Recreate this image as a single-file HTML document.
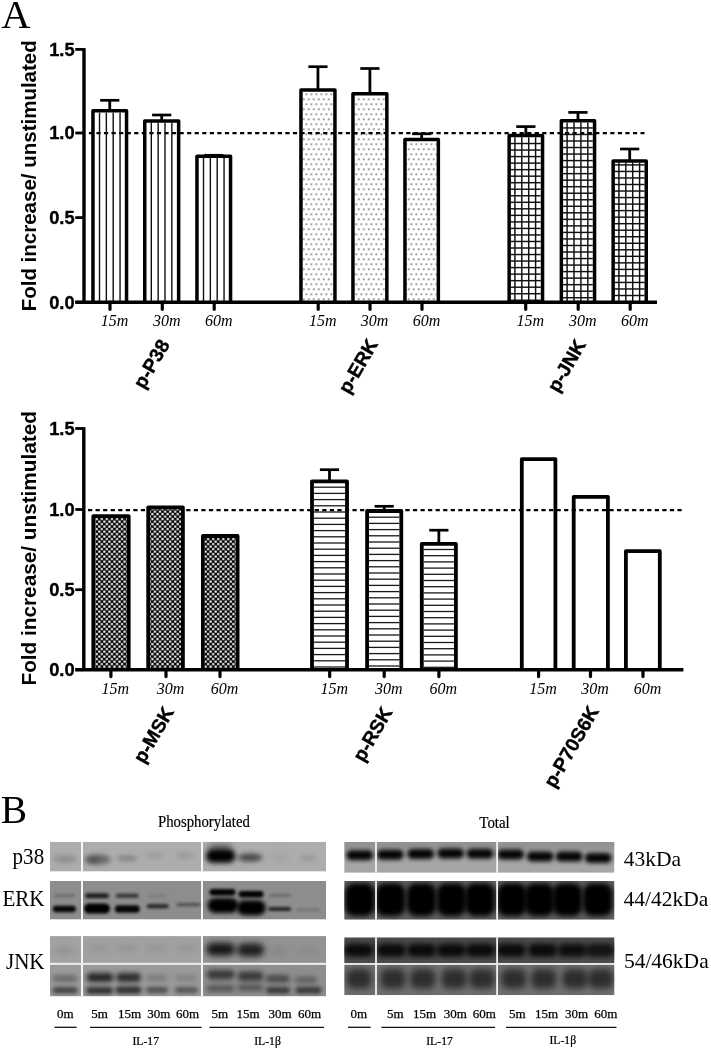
<!DOCTYPE html>
<html><head><meta charset="utf-8"><style>
html,body{margin:0;padding:0;background:#fff;}
body{width:711px;height:1050px;overflow:hidden;position:relative;}
svg{position:absolute;left:0;top:0;display:block;filter:blur(0.45px);}
.tk{font-family:"Liberation Sans",sans-serif;font-weight:bold;font-size:18.3px;stroke:#000;stroke-width:0.35px;}
.yl{font-family:"Liberation Sans",sans-serif;font-weight:bold;font-size:20.5px;}
.gl{font-family:"Liberation Sans",sans-serif;font-weight:bold;font-size:19.3px;stroke:#000;stroke-width:0.4px;}
.tl{font-family:"Liberation Serif",serif;font-style:italic;font-size:16px;}
.big{font-family:"Liberation Serif",serif;font-size:38px;}
.hd{font-family:"Liberation Serif",serif;font-size:16.6px;stroke:#000;stroke-width:0.2px;}
.rl{font-family:"Liberation Serif",serif;font-size:22.8px;}
.kd{font-family:"Liberation Serif",serif;font-size:21.5px;}
.ln{font-family:"Liberation Serif",serif;font-size:13px;stroke:#000;stroke-width:0.25px;}
</style></head><body>
<svg width="711" height="1050" viewBox="0 0 711 1050">
<defs>
<pattern id="dots" patternUnits="userSpaceOnUse" x="303.5" y="183.5" width="5" height="10"><rect x="2.2" y="0.1" width="1.25" height="1.25" fill="#111"/><rect x="-0.3" y="5.1" width="1.25" height="1.25" fill="#111"/><rect x="4.7" y="5.1" width="1.25" height="1.25" fill="#111"/></pattern>
<pattern id="grid" patternUnits="userSpaceOnUse" x="0" y="0" width="6.1" height="5.7"><rect x="0" y="0" width="6.1" height="1.3" fill="#222"/><rect x="0" y="0" width="1.3" height="5.7" fill="#222"/></pattern>
<pattern id="chk" patternUnits="userSpaceOnUse" x="95.5" y="517.83" width="5.06" height="5"><rect width="5.06" height="5" fill="#050505"/><rect x="0.2" y="0.2" width="2.13" height="2.1" fill="#fff"/><rect x="2.73" y="2.7" width="2.13" height="2.1" fill="#fff"/></pattern>
<pattern id="hs" patternUnits="userSpaceOnUse" x="0" y="486.55" width="10" height="6.1"><rect x="0" y="0" width="10" height="1.3" fill="#222"/></pattern>
<filter id="b5" x="-50%" y="-100%" width="200%" height="300%"><feGaussianBlur stdDeviation="0.5"/></filter>
<filter id="b6" x="-50%" y="-100%" width="200%" height="300%"><feGaussianBlur stdDeviation="0.6"/></filter>
<filter id="b7" x="-50%" y="-100%" width="200%" height="300%"><feGaussianBlur stdDeviation="0.7"/></filter>
<filter id="b8" x="-50%" y="-100%" width="200%" height="300%"><feGaussianBlur stdDeviation="0.8"/></filter>
<filter id="b9" x="-50%" y="-100%" width="200%" height="300%"><feGaussianBlur stdDeviation="0.9"/></filter>
<filter id="b10" x="-50%" y="-100%" width="200%" height="300%"><feGaussianBlur stdDeviation="1.0"/></filter>
<filter id="b11" x="-50%" y="-100%" width="200%" height="300%"><feGaussianBlur stdDeviation="1.1"/></filter>
<filter id="b12" x="-50%" y="-100%" width="200%" height="300%"><feGaussianBlur stdDeviation="1.2"/></filter>
<filter id="b13" x="-50%" y="-100%" width="200%" height="300%"><feGaussianBlur stdDeviation="1.3"/></filter>
<filter id="b14" x="-50%" y="-100%" width="200%" height="300%"><feGaussianBlur stdDeviation="1.4"/></filter>
<filter id="b15" x="-50%" y="-100%" width="200%" height="300%"><feGaussianBlur stdDeviation="1.5"/></filter>
<filter id="b16" x="-50%" y="-100%" width="200%" height="300%"><feGaussianBlur stdDeviation="1.6"/></filter>
<filter id="b17" x="-50%" y="-100%" width="200%" height="300%"><feGaussianBlur stdDeviation="1.7"/></filter>
<filter id="b18" x="-50%" y="-100%" width="200%" height="300%"><feGaussianBlur stdDeviation="1.8"/></filter>
<filter id="b19" x="-50%" y="-100%" width="200%" height="300%"><feGaussianBlur stdDeviation="1.9"/></filter>
<filter id="b20" x="-50%" y="-100%" width="200%" height="300%"><feGaussianBlur stdDeviation="2.0"/></filter>
<filter id="b21" x="-50%" y="-100%" width="200%" height="300%"><feGaussianBlur stdDeviation="2.1"/></filter>
<filter id="b22" x="-50%" y="-100%" width="200%" height="300%"><feGaussianBlur stdDeviation="2.2"/></filter>
<filter id="b23" x="-50%" y="-100%" width="200%" height="300%"><feGaussianBlur stdDeviation="2.3"/></filter>
<filter id="b24" x="-50%" y="-100%" width="200%" height="300%"><feGaussianBlur stdDeviation="2.4"/></filter>
<filter id="b25" x="-50%" y="-100%" width="200%" height="300%"><feGaussianBlur stdDeviation="2.5"/></filter>
<filter id="b26" x="-50%" y="-100%" width="200%" height="300%"><feGaussianBlur stdDeviation="2.6"/></filter>
<filter id="b27" x="-50%" y="-100%" width="200%" height="300%"><feGaussianBlur stdDeviation="2.7"/></filter>
<filter id="b28" x="-50%" y="-100%" width="200%" height="300%"><feGaussianBlur stdDeviation="2.8"/></filter>
<filter id="b29" x="-50%" y="-100%" width="200%" height="300%"><feGaussianBlur stdDeviation="2.9"/></filter>
<filter id="b30" x="-50%" y="-100%" width="200%" height="300%"><feGaussianBlur stdDeviation="3.0"/></filter>
<filter id="b31" x="-50%" y="-100%" width="200%" height="300%"><feGaussianBlur stdDeviation="3.1"/></filter>
<filter id="b32" x="-50%" y="-100%" width="200%" height="300%"><feGaussianBlur stdDeviation="3.2"/></filter>
<filter id="b33" x="-50%" y="-100%" width="200%" height="300%"><feGaussianBlur stdDeviation="3.3"/></filter>
<filter id="b34" x="-50%" y="-100%" width="200%" height="300%"><feGaussianBlur stdDeviation="3.4"/></filter>
<filter id="b35" x="-50%" y="-100%" width="200%" height="300%"><feGaussianBlur stdDeviation="3.5"/></filter>
<filter id="b36" x="-50%" y="-100%" width="200%" height="300%"><feGaussianBlur stdDeviation="3.6"/></filter>
<filter id="b37" x="-50%" y="-100%" width="200%" height="300%"><feGaussianBlur stdDeviation="3.7"/></filter>
<filter id="b38" x="-50%" y="-100%" width="200%" height="300%"><feGaussianBlur stdDeviation="3.8"/></filter>
<filter id="b39" x="-50%" y="-100%" width="200%" height="300%"><feGaussianBlur stdDeviation="3.9"/></filter>
<filter id="b40" x="-50%" y="-100%" width="200%" height="300%"><feGaussianBlur stdDeviation="4.0"/></filter>
<filter id="b41" x="-50%" y="-100%" width="200%" height="300%"><feGaussianBlur stdDeviation="4.1"/></filter>
<filter id="b42" x="-50%" y="-100%" width="200%" height="300%"><feGaussianBlur stdDeviation="4.2"/></filter>
<filter id="b43" x="-50%" y="-100%" width="200%" height="300%"><feGaussianBlur stdDeviation="4.3"/></filter>
<filter id="b44" x="-50%" y="-100%" width="200%" height="300%"><feGaussianBlur stdDeviation="4.4"/></filter>
<filter id="b45" x="-50%" y="-100%" width="200%" height="300%"><feGaussianBlur stdDeviation="4.5"/></filter>
<filter id="b46" x="-50%" y="-100%" width="200%" height="300%"><feGaussianBlur stdDeviation="4.6"/></filter>
<filter id="b47" x="-50%" y="-100%" width="200%" height="300%"><feGaussianBlur stdDeviation="4.7"/></filter>
<filter id="b48" x="-50%" y="-100%" width="200%" height="300%"><feGaussianBlur stdDeviation="4.8"/></filter>
<filter id="b49" x="-50%" y="-100%" width="200%" height="300%"><feGaussianBlur stdDeviation="4.9"/></filter>
<filter id="b50" x="-50%" y="-100%" width="200%" height="300%"><feGaussianBlur stdDeviation="5.0"/></filter>
<filter id="b51" x="-50%" y="-100%" width="200%" height="300%"><feGaussianBlur stdDeviation="5.1"/></filter>
<filter id="b52" x="-50%" y="-100%" width="200%" height="300%"><feGaussianBlur stdDeviation="5.2"/></filter>
<filter id="b53" x="-50%" y="-100%" width="200%" height="300%"><feGaussianBlur stdDeviation="5.3"/></filter>
<filter id="b54" x="-50%" y="-100%" width="200%" height="300%"><feGaussianBlur stdDeviation="5.4"/></filter>
<filter id="b55" x="-50%" y="-100%" width="200%" height="300%"><feGaussianBlur stdDeviation="5.5"/></filter>
<filter id="b56" x="-50%" y="-100%" width="200%" height="300%"><feGaussianBlur stdDeviation="5.6"/></filter>
<filter id="b57" x="-50%" y="-100%" width="200%" height="300%"><feGaussianBlur stdDeviation="5.7"/></filter>
<filter id="b58" x="-50%" y="-100%" width="200%" height="300%"><feGaussianBlur stdDeviation="5.8"/></filter>
<filter id="b59" x="-50%" y="-100%" width="200%" height="300%"><feGaussianBlur stdDeviation="5.9"/></filter>
<clipPath id="cpL1"><rect x="50" y="841.8" width="276" height="29.8"/></clipPath>
<clipPath id="cpL2"><rect x="50" y="880.9" width="276" height="38.7"/></clipPath>
<clipPath id="cpL3"><rect x="50" y="936.1" width="276" height="27.1"/></clipPath>
<clipPath id="cpL4"><rect x="50" y="964.4" width="276" height="32"/></clipPath>
<clipPath id="cpR1"><rect x="344.2" y="841.9" width="270.3" height="30.9"/></clipPath>
<clipPath id="cpR2"><rect x="344.2" y="880.9" width="270.3" height="38.8"/></clipPath>
<clipPath id="cpR3"><rect x="344.2" y="937.3" width="270.3" height="25.9"/></clipPath>
<clipPath id="cpR4"><rect x="344.2" y="964.4" width="270.3" height="30.8"/></clipPath>
</defs>
<rect width="711" height="1050" fill="#fff"/>
<line x1="84" y1="48.1" x2="84" y2="302.2" stroke="#000" stroke-width="3.4"/>
<line x1="75.3" y1="49.4" x2="84" y2="49.4" stroke="#000" stroke-width="2.8"/>
<text x="74.6" y="55.699999999999996" class="tk" text-anchor="end">1.5</text>
<line x1="75.3" y1="133" x2="84" y2="133" stroke="#000" stroke-width="2.8"/>
<text x="74.6" y="139.3" class="tk" text-anchor="end">1.0</text>
<line x1="75.3" y1="217.6" x2="84" y2="217.6" stroke="#000" stroke-width="2.8"/>
<text x="74.6" y="223.9" class="tk" text-anchor="end">0.5</text>
<line x1="75.3" y1="302.2" x2="84" y2="302.2" stroke="#000" stroke-width="2.8"/>
<text x="74.6" y="308.5" class="tk" text-anchor="end">0.0</text>
<line x1="86" y1="133.05" x2="644.5" y2="133.05" stroke="#000" stroke-width="2.2" stroke-dasharray="4.2 3.357" stroke-dashoffset="4.7"/>
<line x1="109.75" y1="110.10" x2="109.75" y2="100.30" stroke="#000" stroke-width="2.8"/>
<line x1="100.15" y1="100.30" x2="119.35" y2="100.30" stroke="#000" stroke-width="2.7"/>
<rect x="98.80" y="112.60" width="1.4" height="189.60" fill="#111"/>
<rect x="105.65" y="112.60" width="1.4" height="189.60" fill="#111"/>
<rect x="112.50" y="112.60" width="1.4" height="189.60" fill="#111"/>
<rect x="119.35" y="112.60" width="1.4" height="189.60" fill="#111"/>
<path d="M92.95,302.20 V110.85 H126.55 V302.20" fill="none" stroke="#000" stroke-width="3.5" stroke-linejoin="round"/>
<line x1="161.70" y1="120.20" x2="161.70" y2="115.00" stroke="#000" stroke-width="2.8"/>
<line x1="152.10" y1="115.00" x2="171.30" y2="115.00" stroke="#000" stroke-width="2.7"/>
<rect x="150.60" y="122.70" width="1.4" height="179.50" fill="#111"/>
<rect x="157.45" y="122.70" width="1.4" height="179.50" fill="#111"/>
<rect x="164.30" y="122.70" width="1.4" height="179.50" fill="#111"/>
<rect x="171.15" y="122.70" width="1.4" height="179.50" fill="#111"/>
<path d="M144.75,302.20 V120.95 H178.65 V302.20" fill="none" stroke="#000" stroke-width="3.5" stroke-linejoin="round"/>
<line x1="213.75" y1="155.50" x2="213.75" y2="155.30" stroke="#000" stroke-width="2.8"/>
<line x1="204.15" y1="155.30" x2="223.35" y2="155.30" stroke="#000" stroke-width="2.7"/>
<rect x="202.80" y="158.00" width="1.4" height="144.20" fill="#111"/>
<rect x="209.65" y="158.00" width="1.4" height="144.20" fill="#111"/>
<rect x="216.50" y="158.00" width="1.4" height="144.20" fill="#111"/>
<rect x="223.35" y="158.00" width="1.4" height="144.20" fill="#111"/>
<path d="M196.95,302.20 V156.25 H230.55 V302.20" fill="none" stroke="#000" stroke-width="3.5" stroke-linejoin="round"/>
<line x1="317.95" y1="89.30" x2="317.95" y2="66.70" stroke="#000" stroke-width="2.8"/>
<line x1="308.35" y1="66.70" x2="327.55" y2="66.70" stroke="#000" stroke-width="2.7"/>
<rect x="302.70" y="91.80" width="30.50" height="210.40" fill="url(#dots)"/>
<path d="M300.95,302.20 V90.05 H334.95 V302.20" fill="none" stroke="#000" stroke-width="3.5" stroke-linejoin="round"/>
<line x1="369.90" y1="93.10" x2="369.90" y2="68.50" stroke="#000" stroke-width="2.8"/>
<line x1="360.30" y1="68.50" x2="379.50" y2="68.50" stroke="#000" stroke-width="2.7"/>
<rect x="354.70" y="95.60" width="30.40" height="206.60" fill="url(#dots)"/>
<path d="M352.95,302.20 V93.85 H386.85 V302.20" fill="none" stroke="#000" stroke-width="3.5" stroke-linejoin="round"/>
<line x1="421.65" y1="138.80" x2="421.65" y2="133.80" stroke="#000" stroke-width="2.8"/>
<line x1="412.05" y1="133.80" x2="431.25" y2="133.80" stroke="#000" stroke-width="2.7"/>
<rect x="406.70" y="141.30" width="29.90" height="160.90" fill="url(#dots)"/>
<path d="M404.95,302.20 V139.55 H438.35 V302.20" fill="none" stroke="#000" stroke-width="3.5" stroke-linejoin="round"/>
<line x1="525.85" y1="134.80" x2="525.85" y2="126.60" stroke="#000" stroke-width="2.8"/>
<line x1="516.25" y1="126.60" x2="535.45" y2="126.60" stroke="#000" stroke-width="2.7"/>
<rect x="514.18" y="137.30" width="1.45" height="164.90" fill="#111"/>
<rect x="521.08" y="137.30" width="1.45" height="164.90" fill="#111"/>
<rect x="527.98" y="137.30" width="1.45" height="164.90" fill="#111"/>
<rect x="534.88" y="137.30" width="1.45" height="164.90" fill="#111"/>
<rect x="510.90" y="142.80" width="29.90" height="1.45" fill="#111"/>
<rect x="510.90" y="149.33" width="29.90" height="1.45" fill="#111"/>
<rect x="510.90" y="155.86" width="29.90" height="1.45" fill="#111"/>
<rect x="510.90" y="162.39" width="29.90" height="1.45" fill="#111"/>
<rect x="510.90" y="168.92" width="29.90" height="1.45" fill="#111"/>
<rect x="510.90" y="175.45" width="29.90" height="1.45" fill="#111"/>
<rect x="510.90" y="181.98" width="29.90" height="1.45" fill="#111"/>
<rect x="510.90" y="188.51" width="29.90" height="1.45" fill="#111"/>
<rect x="510.90" y="195.04" width="29.90" height="1.45" fill="#111"/>
<rect x="510.90" y="201.57" width="29.90" height="1.45" fill="#111"/>
<rect x="510.90" y="208.10" width="29.90" height="1.45" fill="#111"/>
<rect x="510.90" y="214.63" width="29.90" height="1.45" fill="#111"/>
<rect x="510.90" y="221.16" width="29.90" height="1.45" fill="#111"/>
<rect x="510.90" y="227.69" width="29.90" height="1.45" fill="#111"/>
<rect x="510.90" y="234.22" width="29.90" height="1.45" fill="#111"/>
<rect x="510.90" y="240.75" width="29.90" height="1.45" fill="#111"/>
<rect x="510.90" y="247.28" width="29.90" height="1.45" fill="#111"/>
<rect x="510.90" y="253.81" width="29.90" height="1.45" fill="#111"/>
<rect x="510.90" y="260.34" width="29.90" height="1.45" fill="#111"/>
<rect x="510.90" y="266.87" width="29.90" height="1.45" fill="#111"/>
<rect x="510.90" y="273.40" width="29.90" height="1.45" fill="#111"/>
<rect x="510.90" y="279.93" width="29.90" height="1.45" fill="#111"/>
<rect x="510.90" y="286.46" width="29.90" height="1.45" fill="#111"/>
<rect x="510.90" y="292.99" width="29.90" height="1.45" fill="#111"/>
<rect x="510.90" y="299.52" width="29.90" height="1.45" fill="#111"/>
<path d="M509.15,302.20 V135.55 H542.55 V302.20" fill="none" stroke="#000" stroke-width="3.5" stroke-linejoin="round"/>
<line x1="577.95" y1="120.10" x2="577.95" y2="112.40" stroke="#000" stroke-width="2.8"/>
<line x1="568.35" y1="112.40" x2="587.55" y2="112.40" stroke="#000" stroke-width="2.7"/>
<rect x="566.38" y="122.60" width="1.45" height="179.60" fill="#111"/>
<rect x="573.28" y="122.60" width="1.45" height="179.60" fill="#111"/>
<rect x="580.18" y="122.60" width="1.45" height="179.60" fill="#111"/>
<rect x="587.08" y="122.60" width="1.45" height="179.60" fill="#111"/>
<rect x="563.10" y="127.21" width="29.70" height="1.45" fill="#111"/>
<rect x="563.10" y="133.74" width="29.70" height="1.45" fill="#111"/>
<rect x="563.10" y="140.27" width="29.70" height="1.45" fill="#111"/>
<rect x="563.10" y="146.80" width="29.70" height="1.45" fill="#111"/>
<rect x="563.10" y="153.33" width="29.70" height="1.45" fill="#111"/>
<rect x="563.10" y="159.86" width="29.70" height="1.45" fill="#111"/>
<rect x="563.10" y="166.39" width="29.70" height="1.45" fill="#111"/>
<rect x="563.10" y="172.92" width="29.70" height="1.45" fill="#111"/>
<rect x="563.10" y="179.45" width="29.70" height="1.45" fill="#111"/>
<rect x="563.10" y="185.98" width="29.70" height="1.45" fill="#111"/>
<rect x="563.10" y="192.51" width="29.70" height="1.45" fill="#111"/>
<rect x="563.10" y="199.04" width="29.70" height="1.45" fill="#111"/>
<rect x="563.10" y="205.57" width="29.70" height="1.45" fill="#111"/>
<rect x="563.10" y="212.10" width="29.70" height="1.45" fill="#111"/>
<rect x="563.10" y="218.63" width="29.70" height="1.45" fill="#111"/>
<rect x="563.10" y="225.16" width="29.70" height="1.45" fill="#111"/>
<rect x="563.10" y="231.69" width="29.70" height="1.45" fill="#111"/>
<rect x="563.10" y="238.22" width="29.70" height="1.45" fill="#111"/>
<rect x="563.10" y="244.75" width="29.70" height="1.45" fill="#111"/>
<rect x="563.10" y="251.28" width="29.70" height="1.45" fill="#111"/>
<rect x="563.10" y="257.81" width="29.70" height="1.45" fill="#111"/>
<rect x="563.10" y="264.34" width="29.70" height="1.45" fill="#111"/>
<rect x="563.10" y="270.87" width="29.70" height="1.45" fill="#111"/>
<rect x="563.10" y="277.40" width="29.70" height="1.45" fill="#111"/>
<rect x="563.10" y="283.93" width="29.70" height="1.45" fill="#111"/>
<rect x="563.10" y="290.46" width="29.70" height="1.45" fill="#111"/>
<rect x="563.10" y="296.99" width="29.70" height="1.45" fill="#111"/>
<path d="M561.35,302.20 V120.85 H594.55 V302.20" fill="none" stroke="#000" stroke-width="3.5" stroke-linejoin="round"/>
<line x1="629.70" y1="160.20" x2="629.70" y2="149.00" stroke="#000" stroke-width="2.8"/>
<line x1="620.10" y1="149.00" x2="639.30" y2="149.00" stroke="#000" stroke-width="2.7"/>
<rect x="618.18" y="162.70" width="1.45" height="139.50" fill="#111"/>
<rect x="625.08" y="162.70" width="1.45" height="139.50" fill="#111"/>
<rect x="631.98" y="162.70" width="1.45" height="139.50" fill="#111"/>
<rect x="638.88" y="162.70" width="1.45" height="139.50" fill="#111"/>
<rect x="614.90" y="164.19" width="29.60" height="1.45" fill="#111"/>
<rect x="614.90" y="170.72" width="29.60" height="1.45" fill="#111"/>
<rect x="614.90" y="177.25" width="29.60" height="1.45" fill="#111"/>
<rect x="614.90" y="183.78" width="29.60" height="1.45" fill="#111"/>
<rect x="614.90" y="190.31" width="29.60" height="1.45" fill="#111"/>
<rect x="614.90" y="196.84" width="29.60" height="1.45" fill="#111"/>
<rect x="614.90" y="203.37" width="29.60" height="1.45" fill="#111"/>
<rect x="614.90" y="209.90" width="29.60" height="1.45" fill="#111"/>
<rect x="614.90" y="216.43" width="29.60" height="1.45" fill="#111"/>
<rect x="614.90" y="222.96" width="29.60" height="1.45" fill="#111"/>
<rect x="614.90" y="229.49" width="29.60" height="1.45" fill="#111"/>
<rect x="614.90" y="236.02" width="29.60" height="1.45" fill="#111"/>
<rect x="614.90" y="242.55" width="29.60" height="1.45" fill="#111"/>
<rect x="614.90" y="249.08" width="29.60" height="1.45" fill="#111"/>
<rect x="614.90" y="255.61" width="29.60" height="1.45" fill="#111"/>
<rect x="614.90" y="262.14" width="29.60" height="1.45" fill="#111"/>
<rect x="614.90" y="268.67" width="29.60" height="1.45" fill="#111"/>
<rect x="614.90" y="275.20" width="29.60" height="1.45" fill="#111"/>
<rect x="614.90" y="281.73" width="29.60" height="1.45" fill="#111"/>
<rect x="614.90" y="288.26" width="29.60" height="1.45" fill="#111"/>
<rect x="614.90" y="294.79" width="29.60" height="1.45" fill="#111"/>
<path d="M613.15,302.20 V160.95 H646.25 V302.20" fill="none" stroke="#000" stroke-width="3.5" stroke-linejoin="round"/>
<line x1="75.3" y1="302.2" x2="657" y2="302.2" stroke="#000" stroke-width="3.4"/>
<line x1="110" y1="302.2" x2="110" y2="309.3" stroke="#000" stroke-width="3.2" stroke-linecap="round"/>
<text x="114.5" y="325.9" class="tl" text-anchor="middle">15m</text>
<line x1="162.3" y1="302.2" x2="162.3" y2="309.3" stroke="#000" stroke-width="3.2" stroke-linecap="round"/>
<text x="166.8" y="325.9" class="tl" text-anchor="middle">30m</text>
<line x1="214.2" y1="302.2" x2="214.2" y2="309.3" stroke="#000" stroke-width="3.2" stroke-linecap="round"/>
<text x="218.7" y="325.9" class="tl" text-anchor="middle">60m</text>
<line x1="318.2" y1="302.2" x2="318.2" y2="309.3" stroke="#000" stroke-width="3.2" stroke-linecap="round"/>
<text x="322.7" y="325.9" class="tl" text-anchor="middle">15m</text>
<line x1="370" y1="302.2" x2="370" y2="309.3" stroke="#000" stroke-width="3.2" stroke-linecap="round"/>
<text x="374.5" y="325.9" class="tl" text-anchor="middle">30m</text>
<line x1="422" y1="302.2" x2="422" y2="309.3" stroke="#000" stroke-width="3.2" stroke-linecap="round"/>
<text x="426.5" y="325.9" class="tl" text-anchor="middle">60m</text>
<line x1="525.7" y1="302.2" x2="525.7" y2="309.3" stroke="#000" stroke-width="3.2" stroke-linecap="round"/>
<text x="530.2" y="325.9" class="tl" text-anchor="middle">15m</text>
<line x1="578.2" y1="302.2" x2="578.2" y2="309.3" stroke="#000" stroke-width="3.2" stroke-linecap="round"/>
<text x="582.7" y="325.9" class="tl" text-anchor="middle">30m</text>
<line x1="630.2" y1="302.2" x2="630.2" y2="309.3" stroke="#000" stroke-width="3.2" stroke-linecap="round"/>
<text x="634.7" y="325.9" class="tl" text-anchor="middle">60m</text>
<text transform="translate(144,390) rotate(-60)" class="gl">p-P38</text>
<text transform="translate(349,395) rotate(-60)" class="gl">p-ERK</text>
<text transform="translate(558,393.5) rotate(-60)" class="gl">p-JNK</text>
<text transform="translate(35.6,175.8) rotate(-90)" class="yl" text-anchor="middle" style="font-size:20.5px">Fold increase/ unstimulated</text>
<line x1="83.8" y1="427.2" x2="83.8" y2="669.7" stroke="#000" stroke-width="3.4"/>
<line x1="75.3" y1="428.5" x2="83.8" y2="428.5" stroke="#000" stroke-width="2.8"/>
<text x="74.6" y="434.8" class="tk" text-anchor="end">1.5</text>
<line x1="75.3" y1="509.5" x2="83.8" y2="509.5" stroke="#000" stroke-width="2.8"/>
<text x="74.6" y="515.8" class="tk" text-anchor="end">1.0</text>
<line x1="75.3" y1="589.7" x2="83.8" y2="589.7" stroke="#000" stroke-width="2.8"/>
<text x="74.6" y="596.0" class="tk" text-anchor="end">0.5</text>
<line x1="75.3" y1="669.7" x2="83.8" y2="669.7" stroke="#000" stroke-width="2.8"/>
<text x="74.6" y="676.0" class="tk" text-anchor="end">0.0</text>
<line x1="85.8" y1="510.06" x2="682" y2="510.06" stroke="#000" stroke-width="2.2" stroke-dasharray="4.2 3.357" stroke-dashoffset="5.36"/>
<rect x="95.20" y="518.00" width="31.60" height="151.70" fill="url(#chk)"/>
<path d="M93.30,669.70 V516.10 H128.70 V669.70" fill="none" stroke="#000" stroke-width="3.8" stroke-linejoin="round"/>
<rect x="150.10" y="509.30" width="30.90" height="160.40" fill="url(#chk)"/>
<path d="M148.20,669.70 V507.40 H182.90 V669.70" fill="none" stroke="#000" stroke-width="3.8" stroke-linejoin="round"/>
<rect x="204.80" y="537.90" width="30.90" height="131.80" fill="url(#chk)"/>
<path d="M202.90,669.70 V536.00 H237.60 V669.70" fill="none" stroke="#000" stroke-width="3.8" stroke-linejoin="round"/>
<line x1="329.50" y1="480.40" x2="329.50" y2="469.70" stroke="#000" stroke-width="2.8"/>
<line x1="319.90" y1="469.70" x2="339.10" y2="469.70" stroke="#000" stroke-width="2.7"/>
<rect x="313.90" y="486.55" width="31.20" height="1.3" fill="#1a1a1a"/>
<rect x="313.90" y="492.75" width="31.20" height="1.3" fill="#1a1a1a"/>
<rect x="313.90" y="498.95" width="31.20" height="1.3" fill="#1a1a1a"/>
<rect x="313.90" y="505.15" width="31.20" height="1.3" fill="#1a1a1a"/>
<rect x="313.90" y="511.35" width="31.20" height="1.3" fill="#1a1a1a"/>
<rect x="313.90" y="517.55" width="31.20" height="1.3" fill="#1a1a1a"/>
<rect x="313.90" y="523.75" width="31.20" height="1.3" fill="#1a1a1a"/>
<rect x="313.90" y="529.95" width="31.20" height="1.3" fill="#1a1a1a"/>
<rect x="313.90" y="536.15" width="31.20" height="1.3" fill="#1a1a1a"/>
<rect x="313.90" y="542.35" width="31.20" height="1.3" fill="#1a1a1a"/>
<rect x="313.90" y="548.55" width="31.20" height="1.3" fill="#1a1a1a"/>
<rect x="313.90" y="554.75" width="31.20" height="1.3" fill="#1a1a1a"/>
<rect x="313.90" y="560.95" width="31.20" height="1.3" fill="#1a1a1a"/>
<rect x="313.90" y="567.15" width="31.20" height="1.3" fill="#1a1a1a"/>
<rect x="313.90" y="573.35" width="31.20" height="1.3" fill="#1a1a1a"/>
<rect x="313.90" y="579.55" width="31.20" height="1.3" fill="#1a1a1a"/>
<rect x="313.90" y="585.75" width="31.20" height="1.3" fill="#1a1a1a"/>
<rect x="313.90" y="591.95" width="31.20" height="1.3" fill="#1a1a1a"/>
<rect x="313.90" y="598.15" width="31.20" height="1.3" fill="#1a1a1a"/>
<rect x="313.90" y="604.35" width="31.20" height="1.3" fill="#1a1a1a"/>
<rect x="313.90" y="610.55" width="31.20" height="1.3" fill="#1a1a1a"/>
<rect x="313.90" y="616.75" width="31.20" height="1.3" fill="#1a1a1a"/>
<rect x="313.90" y="622.95" width="31.20" height="1.3" fill="#1a1a1a"/>
<rect x="313.90" y="629.15" width="31.20" height="1.3" fill="#1a1a1a"/>
<rect x="313.90" y="635.35" width="31.20" height="1.3" fill="#1a1a1a"/>
<rect x="313.90" y="641.55" width="31.20" height="1.3" fill="#1a1a1a"/>
<rect x="313.90" y="647.75" width="31.20" height="1.3" fill="#1a1a1a"/>
<rect x="313.90" y="653.95" width="31.20" height="1.3" fill="#1a1a1a"/>
<rect x="313.90" y="660.15" width="31.20" height="1.3" fill="#1a1a1a"/>
<rect x="313.90" y="666.35" width="31.20" height="1.3" fill="#1a1a1a"/>
<path d="M312.00,669.70 V481.30 H347.00 V669.70" fill="none" stroke="#000" stroke-width="3.8" stroke-linejoin="round"/>
<line x1="384.20" y1="510.10" x2="384.20" y2="506.30" stroke="#000" stroke-width="2.8"/>
<line x1="374.60" y1="506.30" x2="393.80" y2="506.30" stroke="#000" stroke-width="2.7"/>
<rect x="369.00" y="516.55" width="30.40" height="1.3" fill="#1a1a1a"/>
<rect x="369.00" y="522.75" width="30.40" height="1.3" fill="#1a1a1a"/>
<rect x="369.00" y="528.95" width="30.40" height="1.3" fill="#1a1a1a"/>
<rect x="369.00" y="535.15" width="30.40" height="1.3" fill="#1a1a1a"/>
<rect x="369.00" y="541.35" width="30.40" height="1.3" fill="#1a1a1a"/>
<rect x="369.00" y="547.55" width="30.40" height="1.3" fill="#1a1a1a"/>
<rect x="369.00" y="553.75" width="30.40" height="1.3" fill="#1a1a1a"/>
<rect x="369.00" y="559.95" width="30.40" height="1.3" fill="#1a1a1a"/>
<rect x="369.00" y="566.15" width="30.40" height="1.3" fill="#1a1a1a"/>
<rect x="369.00" y="572.35" width="30.40" height="1.3" fill="#1a1a1a"/>
<rect x="369.00" y="578.55" width="30.40" height="1.3" fill="#1a1a1a"/>
<rect x="369.00" y="584.75" width="30.40" height="1.3" fill="#1a1a1a"/>
<rect x="369.00" y="590.95" width="30.40" height="1.3" fill="#1a1a1a"/>
<rect x="369.00" y="597.15" width="30.40" height="1.3" fill="#1a1a1a"/>
<rect x="369.00" y="603.35" width="30.40" height="1.3" fill="#1a1a1a"/>
<rect x="369.00" y="609.55" width="30.40" height="1.3" fill="#1a1a1a"/>
<rect x="369.00" y="615.75" width="30.40" height="1.3" fill="#1a1a1a"/>
<rect x="369.00" y="621.95" width="30.40" height="1.3" fill="#1a1a1a"/>
<rect x="369.00" y="628.15" width="30.40" height="1.3" fill="#1a1a1a"/>
<rect x="369.00" y="634.35" width="30.40" height="1.3" fill="#1a1a1a"/>
<rect x="369.00" y="640.55" width="30.40" height="1.3" fill="#1a1a1a"/>
<rect x="369.00" y="646.75" width="30.40" height="1.3" fill="#1a1a1a"/>
<rect x="369.00" y="652.95" width="30.40" height="1.3" fill="#1a1a1a"/>
<rect x="369.00" y="659.15" width="30.40" height="1.3" fill="#1a1a1a"/>
<rect x="369.00" y="665.35" width="30.40" height="1.3" fill="#1a1a1a"/>
<path d="M367.10,669.70 V511.00 H401.30 V669.70" fill="none" stroke="#000" stroke-width="3.8" stroke-linejoin="round"/>
<line x1="438.85" y1="542.90" x2="438.85" y2="530.20" stroke="#000" stroke-width="2.8"/>
<line x1="429.25" y1="530.20" x2="448.45" y2="530.20" stroke="#000" stroke-width="2.7"/>
<rect x="423.70" y="548.85" width="30.30" height="1.3" fill="#1a1a1a"/>
<rect x="423.70" y="555.05" width="30.30" height="1.3" fill="#1a1a1a"/>
<rect x="423.70" y="561.25" width="30.30" height="1.3" fill="#1a1a1a"/>
<rect x="423.70" y="567.45" width="30.30" height="1.3" fill="#1a1a1a"/>
<rect x="423.70" y="573.65" width="30.30" height="1.3" fill="#1a1a1a"/>
<rect x="423.70" y="579.85" width="30.30" height="1.3" fill="#1a1a1a"/>
<rect x="423.70" y="586.05" width="30.30" height="1.3" fill="#1a1a1a"/>
<rect x="423.70" y="592.25" width="30.30" height="1.3" fill="#1a1a1a"/>
<rect x="423.70" y="598.45" width="30.30" height="1.3" fill="#1a1a1a"/>
<rect x="423.70" y="604.65" width="30.30" height="1.3" fill="#1a1a1a"/>
<rect x="423.70" y="610.85" width="30.30" height="1.3" fill="#1a1a1a"/>
<rect x="423.70" y="617.05" width="30.30" height="1.3" fill="#1a1a1a"/>
<rect x="423.70" y="623.25" width="30.30" height="1.3" fill="#1a1a1a"/>
<rect x="423.70" y="629.45" width="30.30" height="1.3" fill="#1a1a1a"/>
<rect x="423.70" y="635.65" width="30.30" height="1.3" fill="#1a1a1a"/>
<rect x="423.70" y="641.85" width="30.30" height="1.3" fill="#1a1a1a"/>
<rect x="423.70" y="648.05" width="30.30" height="1.3" fill="#1a1a1a"/>
<rect x="423.70" y="654.25" width="30.30" height="1.3" fill="#1a1a1a"/>
<rect x="423.70" y="660.45" width="30.30" height="1.3" fill="#1a1a1a"/>
<rect x="423.70" y="666.65" width="30.30" height="1.3" fill="#1a1a1a"/>
<path d="M421.80,669.70 V543.80 H455.90 V669.70" fill="none" stroke="#000" stroke-width="3.8" stroke-linejoin="round"/>
<path d="M521.80,669.70 V459.10 H555.40 V669.70" fill="none" stroke="#000" stroke-width="3.8" stroke-linejoin="round"/>
<path d="M573.70,669.70 V496.80 H607.90 V669.70" fill="none" stroke="#000" stroke-width="3.8" stroke-linejoin="round"/>
<path d="M625.90,669.70 V551.10 H659.80 V669.70" fill="none" stroke="#000" stroke-width="3.8" stroke-linejoin="round"/>
<line x1="75.3" y1="669.7" x2="683.4" y2="669.7" stroke="#000" stroke-width="3.4"/>
<line x1="110.9" y1="669.7" x2="110.9" y2="676.5999999999999" stroke="#000" stroke-width="3.2" stroke-linecap="round"/>
<text x="115.4" y="693.8" class="tl" text-anchor="middle">15m</text>
<line x1="166" y1="669.7" x2="166" y2="676.5999999999999" stroke="#000" stroke-width="3.2" stroke-linecap="round"/>
<text x="170.5" y="693.8" class="tl" text-anchor="middle">30m</text>
<line x1="220" y1="669.7" x2="220" y2="676.5999999999999" stroke="#000" stroke-width="3.2" stroke-linecap="round"/>
<text x="224.5" y="693.8" class="tl" text-anchor="middle">60m</text>
<line x1="329.7" y1="669.7" x2="329.7" y2="676.5999999999999" stroke="#000" stroke-width="3.2" stroke-linecap="round"/>
<text x="334.2" y="693.8" class="tl" text-anchor="middle">15m</text>
<line x1="384.2" y1="669.7" x2="384.2" y2="676.5999999999999" stroke="#000" stroke-width="3.2" stroke-linecap="round"/>
<text x="388.7" y="693.8" class="tl" text-anchor="middle">30m</text>
<line x1="438.9" y1="669.7" x2="438.9" y2="676.5999999999999" stroke="#000" stroke-width="3.2" stroke-linecap="round"/>
<text x="443.4" y="693.8" class="tl" text-anchor="middle">60m</text>
<line x1="538.6" y1="669.7" x2="538.6" y2="676.5999999999999" stroke="#000" stroke-width="3.2" stroke-linecap="round"/>
<text x="543.1" y="693.8" class="tl" text-anchor="middle">15m</text>
<line x1="590.5" y1="669.7" x2="590.5" y2="676.5999999999999" stroke="#000" stroke-width="3.2" stroke-linecap="round"/>
<text x="595.0" y="693.8" class="tl" text-anchor="middle">30m</text>
<line x1="643" y1="669.7" x2="643" y2="676.5999999999999" stroke="#000" stroke-width="3.2" stroke-linecap="round"/>
<text x="647.5" y="693.8" class="tl" text-anchor="middle">60m</text>
<text transform="translate(144,764.5) rotate(-60)" class="gl">p-MSK</text>
<text transform="translate(363.5,763) rotate(-60)" class="gl">p-RSK</text>
<text transform="translate(554.5,789) rotate(-60)" class="gl">p-P70S6K</text>
<text transform="translate(35.6,548.3) rotate(-90)" class="yl" text-anchor="middle" style="font-size:20.75px">Fold increase/ unstimulated</text>
<g clip-path="url(#cpL1)">
<rect x="50" y="841.8" width="276.00" height="29.80" fill="#adadad"/>
<ellipse cx="65.0" cy="859.0" rx="12.0" ry="3.5" fill="rgb(0,0,0)" fill-opacity="0.2" filter="url(#b25)"/>
<ellipse cx="97.5" cy="859.5" rx="13.0" ry="5.0" fill="rgb(0,0,0)" fill-opacity="0.42" filter="url(#b25)"/>
<ellipse cx="93.0" cy="860.0" rx="6.0" ry="4.0" fill="rgb(0,0,0)" fill-opacity="0.2" filter="url(#b20)"/>
<ellipse cx="127.0" cy="858.3" rx="11.0" ry="3.0" fill="rgb(0,0,0)" fill-opacity="0.22" filter="url(#b22)"/>
<ellipse cx="154.0" cy="855.5" rx="10.0" ry="3.0" fill="rgb(0,0,0)" fill-opacity="0.1" filter="url(#b25)"/>
<ellipse cx="185.0" cy="855.6" rx="9.0" ry="3.0" fill="rgb(0,0,0)" fill-opacity="0.12" filter="url(#b25)"/>
<rect x="205.9" y="849.2" width="29.5" height="13.5" rx="6.8" fill="rgb(0,0,0)" fill-opacity="1.0" filter="url(#b27)"/>
<ellipse cx="220.0" cy="847.5" rx="13.0" ry="3.5" fill="rgb(0,0,0)" fill-opacity="0.45" filter="url(#b30)"/>
<ellipse cx="250.0" cy="857.5" rx="12.5" ry="4.0" fill="rgb(0,0,0)" fill-opacity="0.6" filter="url(#b24)"/>
<ellipse cx="280.0" cy="857.0" rx="9.0" ry="6.0" fill="rgb(0,0,0)" fill-opacity="0.05" filter="url(#b30)"/>
<ellipse cx="308.0" cy="858.0" rx="8.5" ry="2.5" fill="rgb(0,0,0)" fill-opacity="0.15" filter="url(#b25)"/>
</g>
<g clip-path="url(#cpL2)">
<rect x="50" y="880.9" width="276.00" height="38.70" fill="#8d8d8d"/>
<rect x="54.5" y="894.3" width="20.0" height="3.0" rx="1.5" fill="rgb(0,0,0)" fill-opacity="0.25" filter="url(#b14)"/>
<rect x="85.0" y="893.2" width="24.0" height="5.0" rx="2.5" fill="rgb(0,0,0)" fill-opacity="0.8" filter="url(#b14)"/>
<rect x="115.8" y="893.7" width="23.0" height="4.0" rx="2.0" fill="rgb(0,0,0)" fill-opacity="0.65" filter="url(#b14)"/>
<rect x="148.0" y="894.5" width="18.0" height="3.0" rx="1.5" fill="rgb(0,0,0)" fill-opacity="0.12" filter="url(#b14)"/>
<rect x="209.5" y="889.0" width="26.0" height="6.5" rx="3.2" fill="rgb(0,0,0)" fill-opacity="1.0" filter="url(#b14)"/>
<rect x="238.5" y="891.0" width="25.0" height="6.5" rx="3.2" fill="rgb(0,0,0)" fill-opacity="1.0" filter="url(#b14)"/>
<rect x="269.0" y="894.2" width="22.0" height="2.5" rx="1.2" fill="rgb(0,0,0)" fill-opacity="0.3" filter="url(#b14)"/>
<rect x="52.8" y="905.8" width="23.0" height="6.5" rx="3.2" fill="rgb(0,0,0)" fill-opacity="0.97" filter="url(#b16)"/>
<rect x="84.0" y="903.6" width="26.0" height="10.0" rx="5.0" fill="rgb(0,0,0)" fill-opacity="1.0" filter="url(#b18)"/>
<rect x="114.8" y="905.2" width="25.0" height="7.5" rx="3.8" fill="rgb(0,0,0)" fill-opacity="0.97" filter="url(#b17)"/>
<rect x="146.7" y="904.1" width="22.0" height="4.5" rx="2.2" fill="rgb(0,0,0)" fill-opacity="0.7" filter="url(#b15)"/>
<rect x="176.6" y="903.1" width="24.0" height="3.2" rx="1.6" fill="rgb(0,0,0)" fill-opacity="0.45" filter="url(#b16)"/>
<rect x="207.5" y="898.0" width="31.0" height="15.0" rx="7.5" fill="rgb(0,0,0)" fill-opacity="1.0" filter="url(#b21)"/>
<rect x="236.8" y="900.3" width="29.0" height="15.0" rx="7.5" fill="rgb(0,0,0)" fill-opacity="1.0" filter="url(#b21)"/>
<rect x="268.2" y="907.0" width="23.0" height="4.0" rx="2.0" fill="rgb(0,0,0)" fill-opacity="0.75" filter="url(#b15)"/>
<rect x="296.0" y="908.8" width="24.0" height="2.5" rx="1.2" fill="rgb(0,0,0)" fill-opacity="0.2" filter="url(#b14)"/>
</g>
<g clip-path="url(#cpL3)">
<rect x="50" y="936.1" width="152.00" height="27.10" fill="#a2a2a2"/>
<rect x="202" y="936.1" width="124.00" height="27.10" fill="#929292"/>
<ellipse cx="64.0" cy="951.0" rx="11.0" ry="3.0" fill="rgb(0,0,0)" fill-opacity="0.12" filter="url(#b30)"/>
<ellipse cx="98.8" cy="948.0" rx="12.0" ry="4.5" fill="rgb(0,0,0)" fill-opacity="0.07" filter="url(#b30)"/>
<ellipse cx="127.3" cy="948.0" rx="12.0" ry="4.5" fill="rgb(0,0,0)" fill-opacity="0.07" filter="url(#b30)"/>
<ellipse cx="156.8" cy="948.0" rx="12.0" ry="4.5" fill="rgb(0,0,0)" fill-opacity="0.07" filter="url(#b30)"/>
<ellipse cx="185.3" cy="948.0" rx="12.0" ry="4.5" fill="rgb(0,0,0)" fill-opacity="0.07" filter="url(#b30)"/>
<rect x="206.2" y="942.7" width="29.0" height="13.0" rx="6.5" fill="rgb(0,0,0)" fill-opacity="0.85" filter="url(#b33)"/>
<rect x="236.8" y="943.5" width="27.5" height="13.0" rx="6.5" fill="rgb(0,0,0)" fill-opacity="0.8" filter="url(#b33)"/>
<ellipse cx="279.0" cy="951.0" rx="10.0" ry="3.0" fill="rgb(0,0,0)" fill-opacity="0.1" filter="url(#b30)"/>
<ellipse cx="307.0" cy="951.0" rx="10.0" ry="3.0" fill="rgb(0,0,0)" fill-opacity="0.08" filter="url(#b30)"/>
</g>
<g clip-path="url(#cpL4)">
<rect x="50" y="964.4" width="152.00" height="32.00" fill="#9a9a9a"/>
<rect x="202" y="964.4" width="124.00" height="32.00" fill="#8e8e8e"/>
<rect x="52.5" y="975.4" width="25.0" height="6.0" rx="3.0" fill="rgb(0,0,0)" fill-opacity="0.35" filter="url(#b24)"/>
<rect x="52.5" y="987.3" width="25.0" height="6.0" rx="3.0" fill="rgb(0,0,0)" fill-opacity="0.62" filter="url(#b21)"/>
<rect x="86.5" y="973.0" width="27.0" height="9.0" rx="4.5" fill="rgb(0,0,0)" fill-opacity="0.75" filter="url(#b24)"/>
<rect x="86.0" y="986.9" width="27.0" height="7.0" rx="3.5" fill="rgb(0,0,0)" fill-opacity="0.7" filter="url(#b21)"/>
<rect x="116.0" y="973.0" width="25.0" height="9.0" rx="4.5" fill="rgb(0,0,0)" fill-opacity="0.72" filter="url(#b24)"/>
<rect x="115.5" y="986.5" width="26.0" height="7.0" rx="3.5" fill="rgb(0,0,0)" fill-opacity="0.72" filter="url(#b21)"/>
<rect x="146.5" y="975.0" width="21.0" height="6.0" rx="3.0" fill="rgb(0,0,0)" fill-opacity="0.22" filter="url(#b24)"/>
<rect x="146.0" y="987.2" width="22.0" height="5.5" rx="2.8" fill="rgb(0,0,0)" fill-opacity="0.55" filter="url(#b21)"/>
<rect x="175.5" y="975.0" width="21.0" height="6.0" rx="3.0" fill="rgb(0,0,0)" fill-opacity="0.17" filter="url(#b24)"/>
<rect x="174.8" y="987.2" width="23.0" height="5.5" rx="2.8" fill="rgb(0,0,0)" fill-opacity="0.5" filter="url(#b21)"/>
<rect x="206.7" y="969.9" width="28.0" height="9.5" rx="4.8" fill="rgb(0,0,0)" fill-opacity="0.6" filter="url(#b28)"/>
<rect x="206.7" y="985.2" width="28.0" height="6.5" rx="3.2" fill="rgb(0,0,0)" fill-opacity="0.42" filter="url(#b28)"/>
<rect x="237.5" y="971.6" width="26.0" height="9.5" rx="4.8" fill="rgb(0,0,0)" fill-opacity="0.6" filter="url(#b28)"/>
<rect x="237.5" y="984.4" width="26.0" height="6.5" rx="3.2" fill="rgb(0,0,0)" fill-opacity="0.42" filter="url(#b28)"/>
<rect x="265.8" y="975.2" width="24.0" height="7.0" rx="3.5" fill="rgb(0,0,0)" fill-opacity="0.52" filter="url(#b24)"/>
<rect x="266.0" y="987.3" width="24.0" height="6.0" rx="3.0" fill="rgb(0,0,0)" fill-opacity="0.66" filter="url(#b22)"/>
<rect x="295.0" y="977.0" width="22.0" height="6.0" rx="3.0" fill="rgb(0,0,0)" fill-opacity="0.36" filter="url(#b24)"/>
<rect x="295.5" y="987.3" width="26.0" height="6.0" rx="3.0" fill="rgb(0,0,0)" fill-opacity="0.66" filter="url(#b22)"/>
</g>
<rect x="81" y="841.8" width="2" height="29.8" fill="#f6f6f6"/>
<rect x="81" y="880.9" width="2" height="38.7" fill="#f6f6f6"/>
<rect x="81" y="936.1" width="2" height="60.3" fill="#f6f6f6"/>
<rect x="201" y="841.8" width="2" height="29.8" fill="#f6f6f6"/>
<rect x="201" y="880.9" width="2" height="38.7" fill="#f6f6f6"/>
<rect x="201" y="936.1" width="2" height="60.3" fill="#f6f6f6"/>
<rect x="50" y="962.8" width="276" height="1.6" fill="#ececec"/>
<g clip-path="url(#cpR1)">
<rect x="344.2" y="841.9" width="270.30" height="30.90" fill="#a6a6a6"/>
<rect x="340" y="838" width="280" height="12" fill="#000" fill-opacity="0.14" filter="url(#b40)"/>
<rect x="346.2" y="850.3" width="27.0" height="10.0" rx="5.0" fill="rgb(0,0,0)" fill-opacity="0.97" filter="url(#b21)"/>
<rect x="376.7" y="849.7" width="27.0" height="10.0" rx="5.0" fill="rgb(0,0,0)" fill-opacity="0.97" filter="url(#b21)"/>
<rect x="407.2" y="849.0" width="27.0" height="10.0" rx="5.0" fill="rgb(0,0,0)" fill-opacity="0.97" filter="url(#b21)"/>
<rect x="437.2" y="848.5" width="27.0" height="10.0" rx="5.0" fill="rgb(0,0,0)" fill-opacity="0.97" filter="url(#b21)"/>
<rect x="466.5" y="848.8" width="27.0" height="10.0" rx="5.0" fill="rgb(0,0,0)" fill-opacity="0.97" filter="url(#b21)"/>
<rect x="497.1" y="849.5" width="27.0" height="10.0" rx="5.0" fill="rgb(0,0,0)" fill-opacity="0.97" filter="url(#b21)"/>
<rect x="526.7" y="851.5" width="27.0" height="10.0" rx="5.0" fill="rgb(0,0,0)" fill-opacity="0.97" filter="url(#b21)"/>
<rect x="555.7" y="851.6" width="27.0" height="10.0" rx="5.0" fill="rgb(0,0,0)" fill-opacity="0.97" filter="url(#b21)"/>
<rect x="584.7" y="853.0" width="27.0" height="10.0" rx="5.0" fill="rgb(0,0,0)" fill-opacity="0.97" filter="url(#b21)"/>
</g>
<g clip-path="url(#cpR2)">
<rect x="344.2" y="880.9" width="270.30" height="38.80" fill="#5e5e5e"/>
<rect x="344.9" y="883.3" width="29.6" height="32.6" rx="9" fill="#000" filter="url(#b25)"/>
<rect x="375.8" y="883.3" width="29.6" height="32.6" rx="9" fill="#000" filter="url(#b25)"/>
<rect x="406.7" y="883.3" width="29.6" height="32.6" rx="9" fill="#000" filter="url(#b25)"/>
<rect x="436.7" y="883.3" width="29.6" height="32.6" rx="9" fill="#000" filter="url(#b25)"/>
<rect x="465.2" y="883.3" width="29.6" height="32.6" rx="9" fill="#000" filter="url(#b25)"/>
<rect x="497.2" y="883.3" width="29.6" height="32.6" rx="9" fill="#000" filter="url(#b25)"/>
<rect x="524.8" y="883.3" width="29.6" height="32.6" rx="9" fill="#000" filter="url(#b25)"/>
<rect x="552.7" y="883.3" width="29.6" height="32.6" rx="9" fill="#000" filter="url(#b25)"/>
<rect x="582.9" y="883.3" width="29.6" height="32.6" rx="9" fill="#000" filter="url(#b25)"/>
</g>
<g clip-path="url(#cpR3)">
<rect x="344.2" y="937.3" width="270.30" height="25.90" fill="#4f4f4f"/>
<rect x="340" y="941" width="280" height="18" fill="#000" fill-opacity="0.2" filter="url(#b30)"/>
<rect x="344.4" y="944.2" width="28.5" height="12.0" rx="6.0" fill="rgb(0,0,0)" fill-opacity="0.85" filter="url(#b26)"/>
<rect x="376.9" y="944.2" width="28.5" height="12.0" rx="6.0" fill="rgb(0,0,0)" fill-opacity="0.85" filter="url(#b26)"/>
<rect x="407.4" y="944.2" width="28.5" height="12.0" rx="6.0" fill="rgb(0,0,0)" fill-opacity="0.85" filter="url(#b26)"/>
<rect x="436.9" y="944.2" width="28.5" height="12.0" rx="6.0" fill="rgb(0,0,0)" fill-opacity="0.85" filter="url(#b26)"/>
<rect x="465.8" y="944.2" width="28.5" height="12.0" rx="6.0" fill="rgb(0,0,0)" fill-opacity="0.85" filter="url(#b26)"/>
<rect x="496.9" y="944.2" width="28.5" height="12.0" rx="6.0" fill="rgb(0,0,0)" fill-opacity="0.85" filter="url(#b26)"/>
<rect x="528.5" y="944.2" width="28.5" height="12.0" rx="6.0" fill="rgb(0,0,0)" fill-opacity="0.85" filter="url(#b26)"/>
<rect x="558.0" y="944.2" width="28.5" height="12.0" rx="6.0" fill="rgb(0,0,0)" fill-opacity="0.8" filter="url(#b26)"/>
<rect x="585.5" y="944.2" width="28.5" height="12.0" rx="6.0" fill="rgb(0,0,0)" fill-opacity="0.7" filter="url(#b26)"/>
</g>
<g clip-path="url(#cpR4)">
<rect x="344.2" y="964.4" width="270.30" height="30.80" fill="#6e6e6e"/>
<rect x="346.4" y="969" width="25" height="19.5" rx="7" fill="#000" fill-opacity="0.58" filter="url(#b30)"/>
<rect x="380.5" y="969" width="25" height="19.5" rx="7" fill="#000" fill-opacity="0.58" filter="url(#b30)"/>
<rect x="410.2" y="969" width="25" height="19.5" rx="7" fill="#000" fill-opacity="0.58" filter="url(#b30)"/>
<rect x="441.7" y="969" width="25" height="19.5" rx="7" fill="#000" fill-opacity="0.58" filter="url(#b30)"/>
<rect x="469.5" y="969" width="25" height="19.5" rx="7" fill="#000" fill-opacity="0.58" filter="url(#b30)"/>
<rect x="501.2" y="969" width="25" height="19.5" rx="7" fill="#000" fill-opacity="0.58" filter="url(#b30)"/>
<rect x="531.2" y="969" width="25" height="19.5" rx="7" fill="#000" fill-opacity="0.58" filter="url(#b30)"/>
<rect x="562.5" y="969" width="25" height="19.5" rx="7" fill="#000" fill-opacity="0.58" filter="url(#b30)"/>
<rect x="588.3" y="969" width="25" height="19.5" rx="7" fill="#000" fill-opacity="0.58" filter="url(#b30)"/>
</g>
<rect x="375.1" y="841.9" width="1.8" height="30.9" fill="#f2f2f2"/>
<rect x="375.1" y="880.9" width="1.8" height="38.8" fill="#f2f2f2"/>
<rect x="375.1" y="937.3" width="1.8" height="57.9" fill="#f2f2f2"/>
<rect x="496.20000000000005" y="841.9" width="1.8" height="30.9" fill="#f2f2f2"/>
<rect x="496.20000000000005" y="880.9" width="1.8" height="38.8" fill="#f2f2f2"/>
<rect x="496.20000000000005" y="937.3" width="1.8" height="57.9" fill="#f2f2f2"/>
<rect x="344.2" y="963.2" width="270.3" height="1.5" fill="#e4e4e4"/>
<text x="0.8" y="823.3" class="big" style="font-size:39.5px">B</text>
<text x="1.2" y="27.6" class="big" style="font-size:40.5px">A</text>
<text transform="translate(158,827.3) scale(0.89,1)" class="hd">Phosphorylated</text>
<text transform="translate(479.3,827.6) scale(0.9,1)" class="hd">Total</text>
<text transform="translate(44.2,863.8) scale(0.925,1)" class="rl" text-anchor="end">p38</text>
<text transform="translate(44.6,905.9) scale(0.925,1)" class="rl" text-anchor="end">ERK</text>
<text transform="translate(44.6,968.8) scale(0.925,1)" class="rl" text-anchor="end">JNK</text>
<text x="623.8" y="866" class="kd">43kDa</text>
<text x="623.5" y="905.6" class="kd">44/42kDa</text>
<text x="623.9" y="968.2" class="kd">54/46kDa</text>
<text x="65.2" y="1017.6" class="ln" text-anchor="middle">0m</text>
<text x="99.5" y="1017.6" class="ln" text-anchor="middle">5m</text>
<text x="129.5" y="1017.6" class="ln" text-anchor="middle">15m</text>
<text x="158.8" y="1017.6" class="ln" text-anchor="middle">30m</text>
<text x="187.5" y="1017.6" class="ln" text-anchor="middle">60m</text>
<text x="219.9" y="1017.6" class="ln" text-anchor="middle">5m</text>
<text x="248" y="1017.6" class="ln" text-anchor="middle">15m</text>
<text x="280" y="1017.6" class="ln" text-anchor="middle">30m</text>
<text x="309.5" y="1017.6" class="ln" text-anchor="middle">60m</text>
<text x="358.7" y="1017.6" class="ln" text-anchor="middle">0m</text>
<text x="395.2" y="1017.6" class="ln" text-anchor="middle">5m</text>
<text x="424.5" y="1017.6" class="ln" text-anchor="middle">15m</text>
<text x="455.3" y="1017.6" class="ln" text-anchor="middle">30m</text>
<text x="484.2" y="1017.6" class="ln" text-anchor="middle">60m</text>
<text x="517.2" y="1017.6" class="ln" text-anchor="middle">5m</text>
<text x="546.6" y="1017.6" class="ln" text-anchor="middle">15m</text>
<text x="576.5" y="1017.6" class="ln" text-anchor="middle">30m</text>
<text x="605.9" y="1017.6" class="ln" text-anchor="middle">60m</text>
<line x1="54.5" y1="1027.3" x2="76.6" y2="1027.3" stroke="#111" stroke-width="1.3"/>
<line x1="90" y1="1027.3" x2="201.6" y2="1027.3" stroke="#111" stroke-width="1.3"/>
<line x1="209.4" y1="1027.3" x2="324" y2="1027.3" stroke="#111" stroke-width="1.3"/>
<line x1="348" y1="1027.3" x2="370.7" y2="1027.3" stroke="#111" stroke-width="1.3"/>
<line x1="381.4" y1="1027.3" x2="495" y2="1027.3" stroke="#111" stroke-width="1.3"/>
<line x1="506" y1="1027.3" x2="616.5" y2="1027.3" stroke="#111" stroke-width="1.3"/>
<text transform="translate(145.7,1045.3) scale(0.9,1)" class="ln" text-anchor="middle">IL-17</text>
<text transform="translate(267.5,1045.3) scale(0.9,1)" class="ln" text-anchor="middle">IL-1&#946;</text>
<text transform="translate(439.5,1044.6) scale(0.9,1)" class="ln" text-anchor="middle">IL-17</text>
<text transform="translate(562.8,1043.8) scale(0.9,1)" class="ln" text-anchor="middle">IL-1&#946;</text>
</svg>
</body></html>
